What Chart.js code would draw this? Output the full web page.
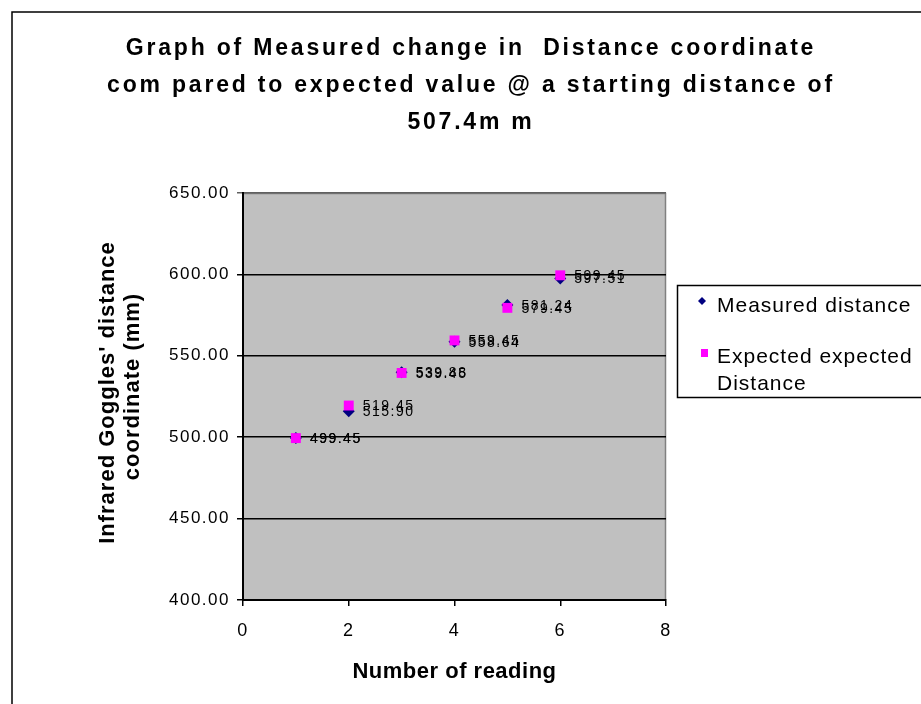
<!DOCTYPE html>
<html>
<head>
<meta charset="utf-8">
<script src="https://cdn.jsdelivr.net/npm/chart.js@4/dist/chart.umd.min.js"></script>
<style>
  html, body { margin: 0; padding: 0; background: #fff; }
  #wrap { width: 921px; height: 704px; position: relative; }
</style>
</head>
<body>
<div id="wrap"><canvas id="chart" width="921" height="704"></canvas></div>
<script>
// readings and values
const readings = [1, 2, 3, 4, 5, 6];
const measured = [499.45, 515.90, 539.88, 558.64, 581.24, 597.51];
const expected = [499.45, 519.45, 539.45, 559.45, 579.45, 599.45];
const seriesNames = ['Measured distance', ['Expected expected', 'Distance']];
const titleLines = [
    'Graph of Measured change in  Distance coordinate',
    'com pared to expected value @ a starting distance of',
    '507.4m m'
];
const yTitle = ["Infrared Goggles' distance", 'coordinate (mm)'];
const xTitle = 'Number of reading';

const FONT = '"Liberation Sans", Arial, sans-serif';

function toPoints(values) {
    return readings.map((r, i) => ({ x: r, y: values[i] }));
}

// background, outer frame, titles, legend
const decorPlugin = {
    id: 'decor',
    beforeDraw(chart) {
        const c = chart.ctx;
        const a = chart.chartArea;
        c.save();
        c.strokeStyle = '#000';
        c.lineWidth = 1.5;
        c.beginPath();
        c.moveTo(12, 704);
        c.lineTo(12, 12);
        c.lineTo(921, 12);
        c.stroke();
        c.fillStyle = '#c0c0c0';
        c.fillRect(a.left, a.top, a.right - a.left, a.bottom - a.top);
        c.strokeStyle = '#808080';
        c.lineWidth = 1.5;
        c.beginPath();
        c.moveTo(a.left, a.top + 0.5);
        c.lineTo(a.right - 0.5, a.top + 0.5);
        c.lineTo(a.right - 0.5, a.bottom);
        c.stroke();
        c.restore();
        // wide Excel-like spacing for tick labels
        c.letterSpacing = '1.5px';
    },
    afterDraw(chart) {
        const c = chart.ctx;
        const a = chart.chartArea;
        c.save();
        c.fillStyle = '#000';
        c.textAlign = 'center';
        c.textBaseline = 'middle';
        c.font = 'bold 23px ' + FONT;
        c.letterSpacing = '2.8px';
        titleLines.forEach((t, i) => c.fillText(t, 471, 49 + i * 37));

        c.font = 'bold 22px ' + FONT;
        c.letterSpacing = '0.5px';
        c.fillText(xTitle, (a.left + a.right) / 2, 672);
        c.save();
        c.letterSpacing = '1px';
        c.translate(108, (a.top + a.bottom) / 2);
        c.rotate(-Math.PI / 2);
        c.fillText(yTitle[0], 4, 0);
        c.fillText(yTitle[1], 10, 25);
        c.restore();

        // legend box
        c.strokeStyle = '#000';
        c.lineWidth = 1.5;
        c.strokeRect(677.5, 285.5, 260, 112);
        c.textAlign = 'left';
        c.font = '21px ' + FONT;
        c.letterSpacing = '1px';
        c.fillStyle = '#000';
        c.fillText(seriesNames[0], 717, 306);
        c.fillText(seriesNames[1][0], 717, 357);
        c.fillText(seriesNames[1][1], 717, 384);
        c.fillStyle = '#000080';
        c.beginPath();
        c.moveTo(702, 297); c.lineTo(706, 301); c.lineTo(702, 305); c.lineTo(698, 301);
        c.closePath();
        c.fill();
        c.fillStyle = '#ff00ff';
        c.fillRect(701, 349, 7, 8);
        c.restore();
    }
};

// value labels to the right of each point
const valueLabels = {
    id: 'valueLabels',
    afterDatasetsDraw(chart) {
        const c = chart.ctx;
        c.save();
        c.font = '14px ' + FONT;
        c.letterSpacing = '1.5px';
        c.fillStyle = '#000';
        c.textAlign = 'left';
        c.textBaseline = 'middle';
        chart.data.datasets.forEach((ds, di) => {
            chart.getDatasetMeta(di).data.forEach((pt, i) => {
                c.fillText(ds.data[i].y.toFixed(2), pt.x + 14, pt.y + 1);
            });
        });
        c.restore();
    }
};

const ctx = document.getElementById('chart');
const config = {
    type: 'scatter',
    data: {
        datasets: [{
            label: 'Measured distance',
            data: toPoints(measured),
            order: 1,
            pointStyle: 'rectRot',
            radius: 6,
            backgroundColor: '#000080',
            borderColor: '#000080',
            borderWidth: 0
        }, {
            label: 'Expected expected Distance',
            data: toPoints(expected),
            order: 0,
            pointStyle: 'rect',
            radius: 7,
            backgroundColor: '#ff00ff',
            borderColor: '#ff00ff',
            borderWidth: 0
        }]
    },
    options: {
        responsive: false,
        animation: false,
        layout: {
            padding: { left: 0, right: 255, top: 193, bottom: 0 }
        },
        plugins: {
            legend: { display: false },
            tooltip: { enabled: false }
        },
        scales: {
            x: {
                type: 'linear',
                min: 0,
                max: 8,
                ticks: {
                    stepSize: 2,
                    color: '#000',
                    font: { family: FONT, size: 18 },
                    padding: 14
                },
                grid: {
                    display: true,
                    drawOnChartArea: false,
                    drawTicks: true,
                    tickLength: 6,
                    color: '#000',
                    lineWidth: 1.5
                },
                border: { color: '#000', width: 2 },
                afterFit(scale) { scale.height = 104; }
            },
            y: {
                min: 400,
                max: 650,
                ticks: {
                    stepSize: 50,
                    color: '#000',
                    font: { family: FONT, size: 17 },
                    padding: 7,
                    callback: v => v.toFixed(2)
                },
                grid: {
                    color: c => (c.tick && c.tick.value === 650) ? '#606060' : '#000',
                    lineWidth: 1.5,
                    tickLength: 6
                },
                border: { color: '#000', width: 2 },
                afterFit(scale) { scale.width = 243; }
            }
        }
    },
    plugins: [decorPlugin, valueLabels]
};
const myChart = new Chart(ctx, config);
</script>
</body>
</html>
